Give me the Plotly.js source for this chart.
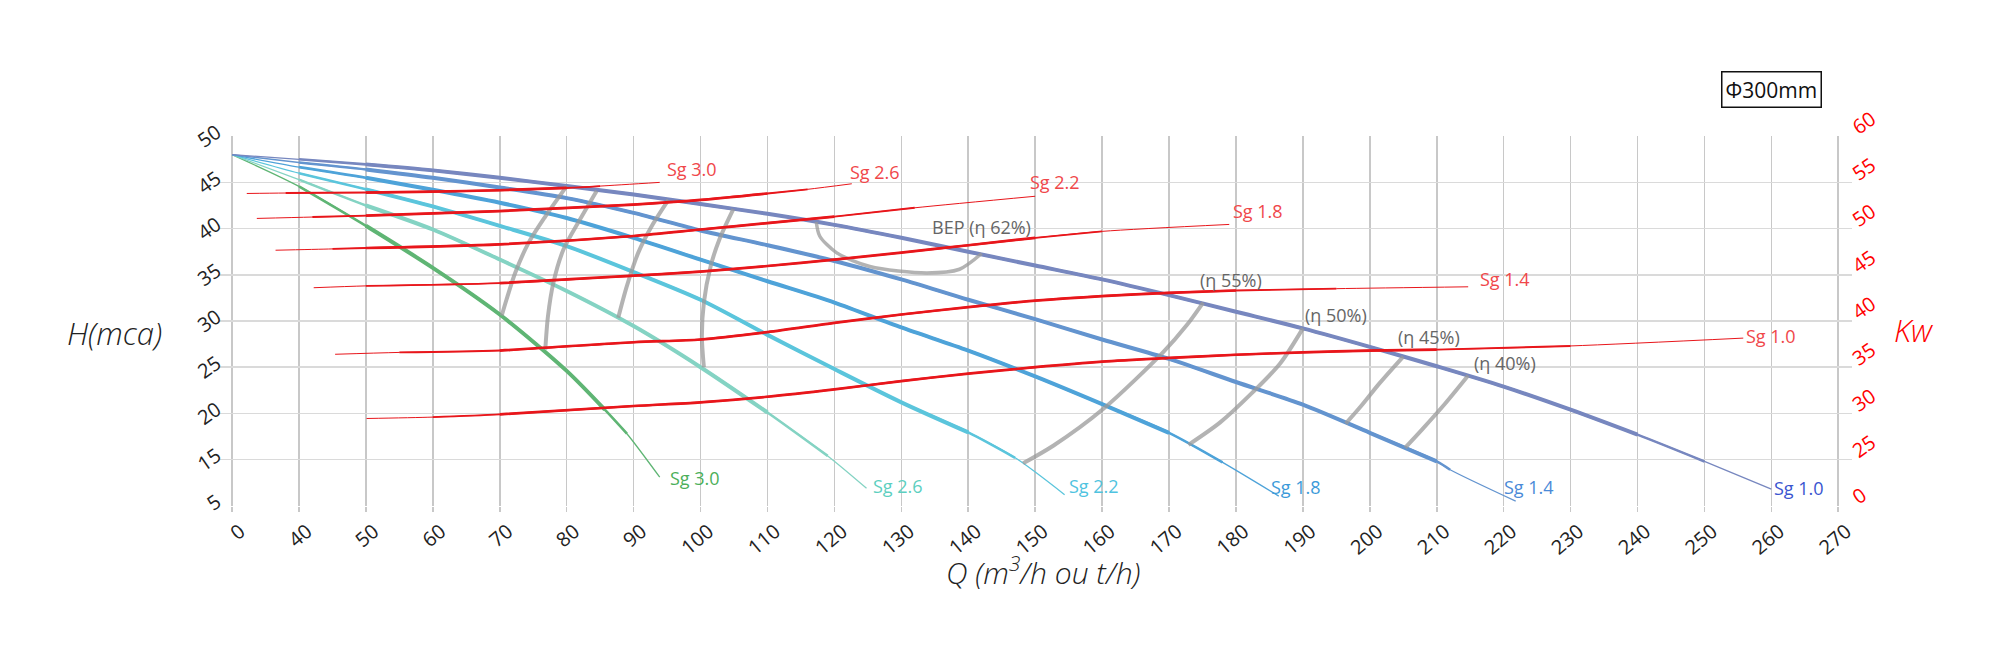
<!DOCTYPE html>
<html>
<head>
<meta charset="utf-8">
<script src="https://cdn.plot.ly/plotly-3.0.1.min.js"></script>
<style>
  body { margin: 0; background: #fff; }
  #graph { width: 2000px; height: 667px; }
</style>
</head>
<body>
<div id="graph"></div>
<script>
// axis ticks (the chart labels its first ticks oddly, kept as printed)
var qTicks = [30,40,50,60,70,80,90,100,110,120,130,140,150,160,170,180,190,200,210,220,230,240,250,260,270];
var qTickText = ['0','40','50','60','70','80','90','100','110','120','130','140','150','160','170','180','190','200','210','220','230','240','250','260','270'];
var hTicks = [10,15,20,25,30,35,40,45,50];
var hTickText = ['5','15','20','25','30','35','40','45','50'];
var kwTicks = [20,25,30,35,40,45,50,55,60];
var kwTickText = ['0','25','30','35','40','45','50','55','60'];

// head curves H(Q) per specific gravity
var q10 = [30,40,50,60,70,80,90,100,110,120,130,140,150,160,170,180,190,200,210,220,230,240,250,260];
var h10 = [48,47.5,46.95,46.3,45.5,44.6,43.7,42.65,41.6,40.4,39.0,37.5,36.0,34.5,32.8,31.0,29.2,27.2,25.1,22.9,20.4,17.7,14.8,11.8];
var q14 = [30,40,50,60,70,80,90,100,110,120,130,140,150,160,170,180,190,200,210,212,221.8];
var h14 = [48,47.15,46.4,45.5,44.45,43.3,41.7,39.8,38.2,36.5,34.5,32.3,30.2,28.0,25.9,23.4,20.95,17.9,14.8,13.9,10.5];
var q18 = [30,40,50,60,70,80,90,100,110,120,130,140,150,160,170,178,186.4];
var h18 = [48,46.65,45.5,44.2,42.8,41.15,39.0,36.65,34.3,32.0,29.3,26.8,24.0,21.0,17.9,14.7,11.05];
var q22 = [30,40,50,60,70,80,90,100,110,120,130,140,147,154.4];
var h22 = [48,46.0,44.25,42.4,40.3,38.1,35.3,32.3,28.5,24.8,21.2,17.95,15.2,11.2];
var q26 = [30,40,50,60,70,80,90,100,110,119,124.8];
var h26 = [48,45.3,42.5,39.9,36.65,33.25,29.45,25.0,20.1,15.4,11.9];
var q30 = [30,40,50,60,70,80,85.7,89,93.9];
var h30 = [48,44.57,40.3,35.75,30.7,24.6,20.4,17.8,13.1];

// power curves Kw(Q)
var p10q = [50.1,60,70,90,100,110,120,130,140,150,160,170,180,190,200,210,230,255.8];
var p10 = [29.45,29.6,29.9,30.8,31.2,31.8,32.6,33.5,34.3,35.0,35.6,36.0,36.35,36.6,36.8,36.9,37.3,38.15];
var p14q = [45.4,55,70,90,100,110,120,130,140,150,160,170,180,195,214.7];
var p14 = [36.4,36.6,36.8,37.7,38.0,38.8,39.8,40.7,41.5,42.2,42.7,43.05,43.3,43.5,43.7];
var p18q = [42.2,50,70,90,100,110,120,130,140,150,160,179];
var p18 = [43.6,43.8,44.1,44.9,45.35,45.95,46.65,47.4,48.2,49.0,49.7,50.45];
var p22q = [36.5,45,50,70,90,100,110,120,132,150];
var p22 = [47.66,47.8,47.9,48.3,49.2,49.9,50.6,51.3,52.25,53.5];
var p26q = [33.7,42,50,70,90,100,110,116,122.6];
var p26 = [51.1,51.25,51.4,51.9,52.6,53.1,53.8,54.25,54.85];
var p30q = [32.2,38,50,60,70,80,85,93.9];
var p30 = [53.8,53.85,53.9,54.0,54.15,54.4,54.6,55.0];

// efficiency lines
var effAq = [80,76.8,74.3,72.3,71.0,70.3];
var effAh = [44.6,41.3,38.45,35.2,32.3,30.6];
var effBq = [84.5,82.0,79.5,78.0,77.2,76.8];
var effBh = [44.1,41.0,37.7,34.1,30.5,26.9];
var effCq = [95.2,92.7,90.7,89.0,87.7];
var effCh = [43.1,40.25,37.4,33.8,30.35];
var effDq = [104.9,102.8,101.5,100.5,100.2,100.5];
var effDh = [42.1,38.8,35.9,32.0,28.3,25.0];
var bepQ = [117.3,117.8,120.3,125.3,133.8,138.7,142.0];
var bepH = [40.7,39.2,37.4,35.9,35.2,35.6,37.3];
var e55q = [175.1,172.6,169.1,160.2,152.7,148.2];
var e55h = [32.0,29.5,26.6,20.5,16.5,14.6];
var e50q = [190,186.6,182.1,177.6,172.9];
var e50h = [29.2,25.4,22.0,19.0,16.6];
var e45q = [205,201.5,198.7,196.4];
var e45h = [26.15,23.3,20.8,18.9];
var e40q = [214.7,211.3,207.8,205.3];
var e40h = [24.1,21.1,18.25,16.3];

// labels
var sgNames = ['Sg 3.0','Sg 2.6','Sg 2.2','Sg 1.8','Sg 1.4','Sg 1.0'];
var headLabelX = [95.2,125.5,154.7,185,219.8,260.1];
var headLabelY = [13.0,12.1,12.1,12.05,12.05,11.95];
var powerLabelX = [94.7,122.1,149,179.3,216.1,255.9];
var powerLabelY = [56.4,56.1,55.0,51.9,44.5,38.4];
var effNames = ['BEP (η 62%)','(η 55%)','(η 50%)','(η 45%)','(η 40%)'];
var effLabelX = [142,179.3,195,208.8,220.2];
var effLabelY = [40.2,34.4,30.7,28.3,25.45];

var headColors = ['#5fb574','#84d3c3','#5bc5dc','#4ea3d9','#6394cf','#7787bf'];
var headTextColors = ['#4caf5a','#5ccfc0','#4fc3e0','#3b9ad9','#4a8ad8','#3a55d0'];
var red = '#e8161b';

// layered widths: thin whole curve, medium and thick cores, so the ends taper
function taper(q, v, color, widths, axis) {
    var n = q.length;
    return widths.map(function (w, k) {
        return {
            x: q.slice(k, n - k),
            y: v.slice(k, n - k),
            yaxis: axis,
            type: 'scatter',
            mode: 'lines',
            hoverinfo: 'skip',
            line: {color: color, width: w, shape: 'spline', smoothing: 0.8}
        };
    });
}

function arc(q, h, width) {
    return {
        x: q, y: h, type: 'scatter', mode: 'lines', hoverinfo: 'skip',
        opacity: 0.75,
        line: {color: '#9a9a9a', width: width, shape: 'spline', smoothing: 0.8}
    };
}

var data = [];
var heads = [[q30,h30],[q26,h26],[q22,h22],[q18,h18],[q14,h14],[q10,h10]];
heads.forEach(function (c, i) {
    data = data.concat(taper(c[0], c[1], headColors[i], [1.3, 2.6, 4], 'y'));
});

var powers = [[p30q,p30],[p26q,p26],[p22q,p22],[p18q,p18],[p14q,p14],[p10q,p10]];
powers.forEach(function (c) {
    data = data.concat(taper(c[0], c[1], red, [1, 1.9, 2.7], 'y2'));
});

[[effAq,effAh],[effBq,effBh],[effCq,effCh],[effDq,effDh],[e55q,e55h],[e50q,e50h],[e45q,e45h],[e40q,e40h]].forEach(function (c) {
    data.push(arc(c[0], c[1], 4));
});
data.push(arc(bepQ, bepH, 3.5));

var annotations = [];
sgNames.forEach(function (name, i) {
    annotations.push({
        x: headLabelX[i], y: headLabelY[i], xref: 'x', yref: 'y',
        text: name, showarrow: false, xanchor: 'left', yanchor: 'middle',
        font: {size: 18, color: headTextColors[i]}
    });
    annotations.push({
        x: powerLabelX[i], y: powerLabelY[i], xref: 'x', yref: 'y2',
        text: name, showarrow: false, xanchor: 'left', yanchor: 'middle',
        font: {size: 18, color: '#f0474a'}
    });
});
effNames.forEach(function (name, i) {
    annotations.push({
        x: effLabelX[i], y: effLabelY[i], xref: 'x', yref: 'y',
        text: name, showarrow: false, xanchor: 'center', yanchor: 'middle',
        font: {size: 18, color: '#666'}
    });
});
annotations.push({
    x: -0.0632, y: 0.468, xref: 'paper', yref: 'paper', showarrow: false,
    xanchor: 'center', yanchor: 'middle',
    text: 'H(mca)', font: {size: 31, color: '#222', style: 'italic', weight: 300}
});
annotations.push({
    x: 1.038, y: 0.476, xref: 'paper', yref: 'paper', showarrow: false,
    xanchor: 'center', yanchor: 'middle',
    text: 'Kw', font: {size: 31, color: '#ff0000', style: 'italic', weight: 300}
});
annotations.push({
    x: 0.505, y: -0.175, xref: 'paper', yref: 'paper', showarrow: false,
    xanchor: 'center', yanchor: 'middle',
    text: 'Q (m<sup>3</sup>/h ou t/h)', font: {size: 30, color: '#222', style: 'italic', weight: 300}
});
annotations.push({
    x: 0.951, y: 1.125, xref: 'paper', yref: 'paper', showarrow: false,
    xanchor: 'center', yanchor: 'middle',
    text: 'Φ300mm', bordercolor: '#111', borderwidth: 1.5, borderpad: 3,
    font: {size: 21, color: '#111'}
});

var layout = {
    width: 2000,
    height: 667,
    margin: {l: 218, r: 148, t: 136, b: 161},
    paper_bgcolor: '#fff',
    plot_bgcolor: '#fff',
    showlegend: false,
    font: {family: '"Open Sans", sans-serif', color: '#222'},
    xaxis: {
        range: [27.9, 272.05],
        tickvals: qTicks,
        ticktext: qTickText,
        tickangle: -40,
        ticklabelshift: 8,
        tickfont: {size: 20, color: '#222'},
        showgrid: true,
        gridcolor: '#c8c8c8',
        gridwidth: 1.6,
        zeroline: false,
        ticks: 'outside',
        ticklen: 5,
        tickcolor: '#c8c8c8',
        tickwidth: 1.6
    },
    yaxis: {
        range: [9.98, 50.02],
        tickvals: hTicks,
        ticktext: hTickText,
        tickangle: -35,
        ticklabelshift: -6,
        tickfont: {size: 20, color: '#222'},
        gridcolor: '#dadada',
        gridwidth: 1.6,
        zeroline: false
    },
    yaxis2: {
        range: [19.98, 60.02],
        overlaying: 'y',
        side: 'right',
        tickvals: kwTicks,
        ticktext: kwTickText,
        tickangle: -35,
        ticklabelshift: -6,
        tickfont: {size: 20, color: '#ff0000'},
        showgrid: false,
        zeroline: false
    },
    annotations: annotations
};

Plotly.newPlot('graph', data, layout, {displayModeBar: false, staticPlot: true});
</script>
</body>
</html>
